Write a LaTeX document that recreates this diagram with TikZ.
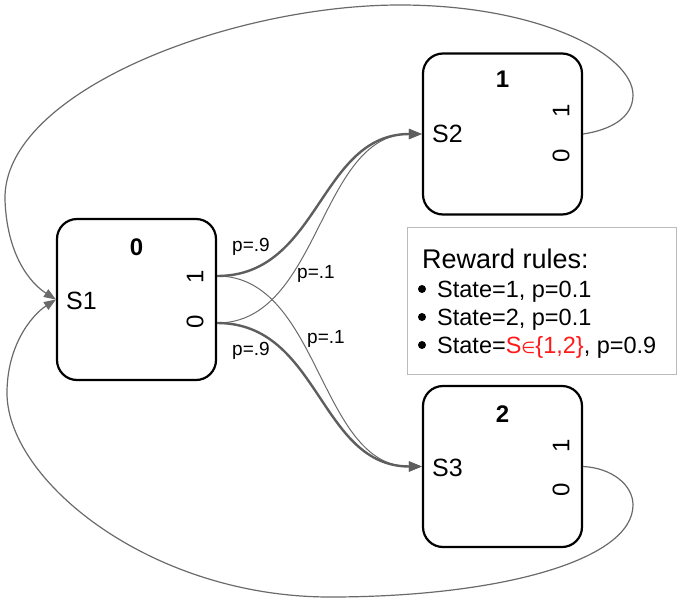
\documentclass[tikz,border=0pt]{standalone}
\usepackage{fontspec}
\setmainfont{Liberation Sans}
\newfontfamily\dejavu{DejaVu Sans}
\usetikzlibrary{arrows.meta,calc}
\definecolor{conn}{HTML}{5E5E5E}
\definecolor{thinconn}{HTML}{6A6A6A}
\definecolor{rulegray}{HTML}{BBBBBB}
\definecolor{setred}{HTML}{FF1A1A}
\begin{document}
\begin{tikzpicture}[x=1pt,y=-1pt,
  statebox/.style={draw=black, line width=2.2pt, rounded corners=20pt,
    minimum width=159pt, minimum height=161pt, inner sep=0pt},
  boxtitle/.style={font=\fontsize{24}{28}\selectfont\bfseries, inner sep=0pt},
  slabel/.style={font=\fontsize{25}{30}\selectfont, inner sep=0pt, anchor=west},
  portlabel/.style={font=\fontsize{24}{28}\selectfont, inner sep=0pt, rotate=90},
  plabel/.style={font=\fontsize{19}{22}\selectfont, inner sep=0pt},
  heavyedge/.style={draw=conn, line width=2.4pt, -{Triangle[length=13pt,width=10pt]}},
  lightedge/.style={draw=thinconn, line width=1pt, -{Triangle[length=13pt,width=10pt]}},
  loopedge/.style={draw=thinconn, line width=1.2pt, -{Triangle[length=12pt,width=9pt]}},
  ruletext/.style={font=\fontsize{23.5}{28}\selectfont, inner sep=0pt, anchor=base west},
  bulletmark/.style={circle, fill=black, inner sep=0pt, minimum size=8pt}
]
\useasboundingbox (0,0) rectangle (683,608);

% state boxes
\node[statebox] (s1) at (136.5,299.5) {};
\node[statebox] (s2) at (502.5,134) {};
\node[statebox] (s3) at (502.5,466.5) {};

% titles
\node[boxtitle] (t1) at ($(s1.north)+(0,29)$) {0};
\node[boxtitle] (t2) at ($(s2.north)+(0,27)$) {1};
\node[boxtitle] (t3) at ($(s3.north)+(0,29)$) {2};

% state names
\node[slabel] (n1) at ($(s1.west)+(10,1)$) {S1};
\node[slabel] (n2) at ($(s2.west)+(10,0)$) {S2};
\node[slabel] (n3) at ($(s3.west)+(10,1)$) {S3};

% port labels
\node[portlabel] (q11) at ($(s1.east)+(-22,-22.5)$) {1};
\node[portlabel] (q10) at ($(s1.east)+(-22,22.5)$) {0};
\node[portlabel] (q21) at ($(s2.east)+(-22,-23)$) {1};
\node[portlabel] (q20) at ($(s2.east)+(-22,22)$) {0};
\node[portlabel] (q31) at ($(s3.east)+(-22,-21)$) {1};
\node[portlabel] (q30) at ($(s3.east)+(-22,23)$) {0};

% ports
\coordinate (s1o1) at ($(s1.east)+(0,-23.5)$);
\coordinate (s1o0) at ($(s1.east)+(0,23.5)$);

% transitions
\draw[lightedge] (s1o1) .. controls +(103,0) and +(-103,0) .. (s3.west);
\draw[lightedge] (s1o0) .. controls +(103,0) and +(-103,0) .. (s2.west);
\draw[heavyedge] (s1o1) .. controls +(103,0) and +(-103,0) .. (s2.west);
\draw[heavyedge] (s1o0) .. controls +(103,0) and +(-103,0) .. (s3.west);

% probability labels
\node[plabel] (pa) at (251,247) {p=.9};
\node[plabel] (pb) at (316,274) {p=.1};
\node[plabel] (pc) at (326,339) {p=.1};
\node[plabel] (pd) at (251,351) {p=.9};

% loops back to S1
\draw[loopedge] (s2.east) .. controls (610,130) and (633,118) .. (633,95)
  .. controls (633,55) and (540,5) .. (400,5)
  .. controls (230,5) and (2,92) .. (5,200)
  .. controls (7,255) and (30,283) .. (s1.west);
\draw[loopedge] (s3.east) .. controls (612,468) and (633,485) .. (633,505)
  .. controls (633,560) and (500,597) .. (330,597)
  .. controls (150,597) and (7,480) .. (7,393)
  .. controls (7,345) and (32,315) .. (s1.west);

% reward rules box
\node[draw=rulegray, line width=1.5pt, minimum width=269pt, minimum height=147pt,
  inner sep=0pt, anchor=north west] (rbox) at (406.5,226.5) {};
\node[font=\fontsize{27}{32}\selectfont, inner sep=0pt, anchor=base west] (rt) at (422,268) {Reward rules:};
\node[bulletmark] (m1) at (422,289) {};
\node[bulletmark] (m2) at (422,317) {};
\node[bulletmark] (m3) at (422,345) {};
\node[ruletext] (r1) at (437,297) {State=1, p=0.1};
\node[ruletext] (r2) at (437,325) {State=2, p=0.1};
\node[ruletext] (r3) at (437,353) {State=\textcolor{setred}{S{\dejavu\fontsize{16}{18}\selectfont ∈}\{1,2\}}, p=0.9};
\end{tikzpicture}
\end{document}
